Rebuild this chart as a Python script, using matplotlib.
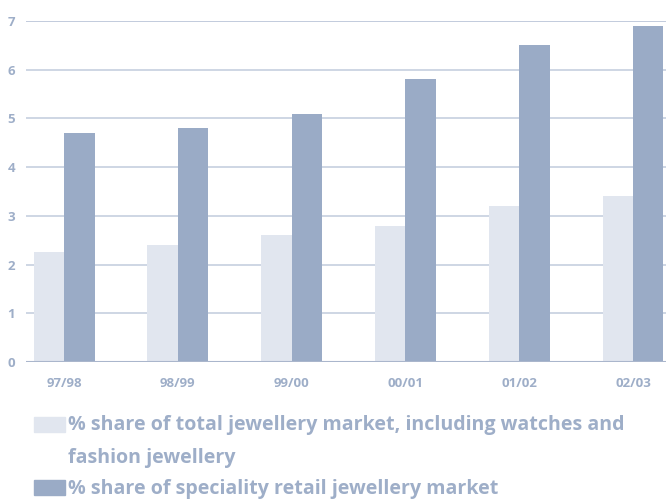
import matplotlib.pyplot as plt
from matplotlib.patches import Rectangle

years = ['97/98', '98/99', '99/00', '00/01', '01/02', '02/03']
total_share = [2.25, 2.4, 2.6, 2.8, 3.2, 3.4]
speciality_share = [4.7, 4.8, 5.1, 5.8, 6.5, 6.9]
series_names = ['% share of total jewellery market, including watches and\nfashion jewellery',
                '% share of speciality retail jewellery market']

light = '#e1e6ef'
dark = '#9aabc6'
grid_col = '#c6cfdf'
text_col = '#9eaec8'
font = 'Open Sans'

fig = plt.figure(figsize=(6.66, 5), dpi=100)
ax = fig.add_axes([26 / 666, 138 / 500, 640 / 666, 341 / 500])

w = 0.268
x = list(range(len(years)))
ax.bar([i - w / 2 for i in x], total_share, width=w, color=light, zorder=3)
ax.bar([i + w / 2 for i in x], speciality_share, width=w, color=dark, zorder=3)

ax.set_xlim(-0.334, 5.29)
ax.set_ylim(0, 7)
ax.set_yticks(range(8))
ax.yaxis.grid(True, color=grid_col, linewidth=1.2, zorder=0)
ax.axhline(7, color='#aab6cc', linewidth=1.2, zorder=1)
ax.axhline(0, color='#aab6cc', linewidth=1.5, zorder=4)
for s in ax.spines.values():
    s.set_visible(False)

ax.set_xticks(x)
ax.set_xticklabels(years)
ax.tick_params(axis='both', length=0, labelcolor=text_col, labelsize=9.5)
ax.tick_params(axis='x', pad=11)
ax.tick_params(axis='y', pad=8)
for lab in ax.get_xticklabels() + ax.get_yticklabels():
    lab.set_fontfamily(font)
    lab.set_fontweight('bold')

# legend drawn by hand below the axes
for y0, col in [(417, light), (480, dark)]:
    fig.patches.append(Rectangle((34 / 666, 1 - (y0 + 15) / 500), 31 / 666, 15 / 500,
                                 transform=fig.transFigure, color=col))
lines = series_names[0].split('\n') + [series_names[1]]
for ypx, txt in zip([425, 458, 489], lines):
    fig.text(68 / 666, 1 - ypx / 500, txt, fontsize=14.1,
             color=text_col, fontweight='bold', family=font, va='center')

fig.savefig('out.png', dpi=100)
